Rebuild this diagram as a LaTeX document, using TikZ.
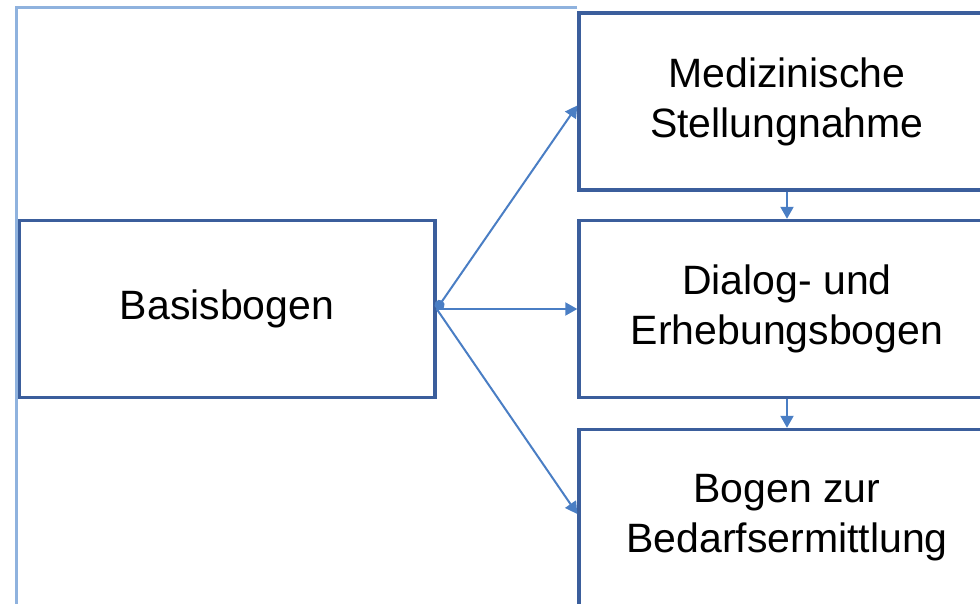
\documentclass[tikz,border=0pt]{standalone}
\usepackage{fontspec}
\setmainfont{Liberation Sans}
\usetikzlibrary{arrows.meta}
\definecolor{boxblue}{HTML}{3B5E9C}
\definecolor{arrowblue}{HTML}{4A7EC4}
\definecolor{frameblue}{HTML}{8FB2DE}
\tikzset{
  bogen/.style={draw=boxblue, line width=3.4pt, minimum width=416pt, minimum height=177pt,
    align=center, inner sep=0pt, font=\fontsize{41}{50}\selectfont},
  pfeil/.style={draw=arrowblue, line width=2pt, -{Triangle[width=13pt,length=12pt]}},
  pfeilpunkt/.style={{Circle[length=10pt]}-{Triangle[width=13pt,length=12pt]}}
}
\begin{document}
\begin{tikzpicture}[x=1pt,y=-1pt]
      \useasboundingbox (0,0) rectangle (980,604);
      \clip (0,0) rectangle (980,604);
      \draw
        (227,309) node[bogen] (basis){Basisbogen}
        (787,101.5) node[bogen] (medizin){Medizinische\\Stellungnahme}
        (787,309) node[bogen] (dialog){Dialog- und\\Erhebungsbogen}
        (787,518) node[bogen] (bedarf){Bogen zur\\Bedarfsermittlung};
      \coordinate (eck) at (16.5,8);
      \draw[frameblue, line width=3pt] (medizin.west |- eck) -- (eck) -- (eck |- bedarf.south);
      \begin{scope}[pfeil]
        \draw[pfeilpunkt] (basis.east) to ([yshift=-4pt]medizin.west);
        \draw (basis.east) to (dialog.west);
        \draw (basis.east) to ([yshift=4pt]bedarf.west);
        \draw (medizin.south) to (dialog.north);
        \draw (dialog.south) to (bedarf.north);
      \end{scope}
    \end{tikzpicture}
\end{document}
